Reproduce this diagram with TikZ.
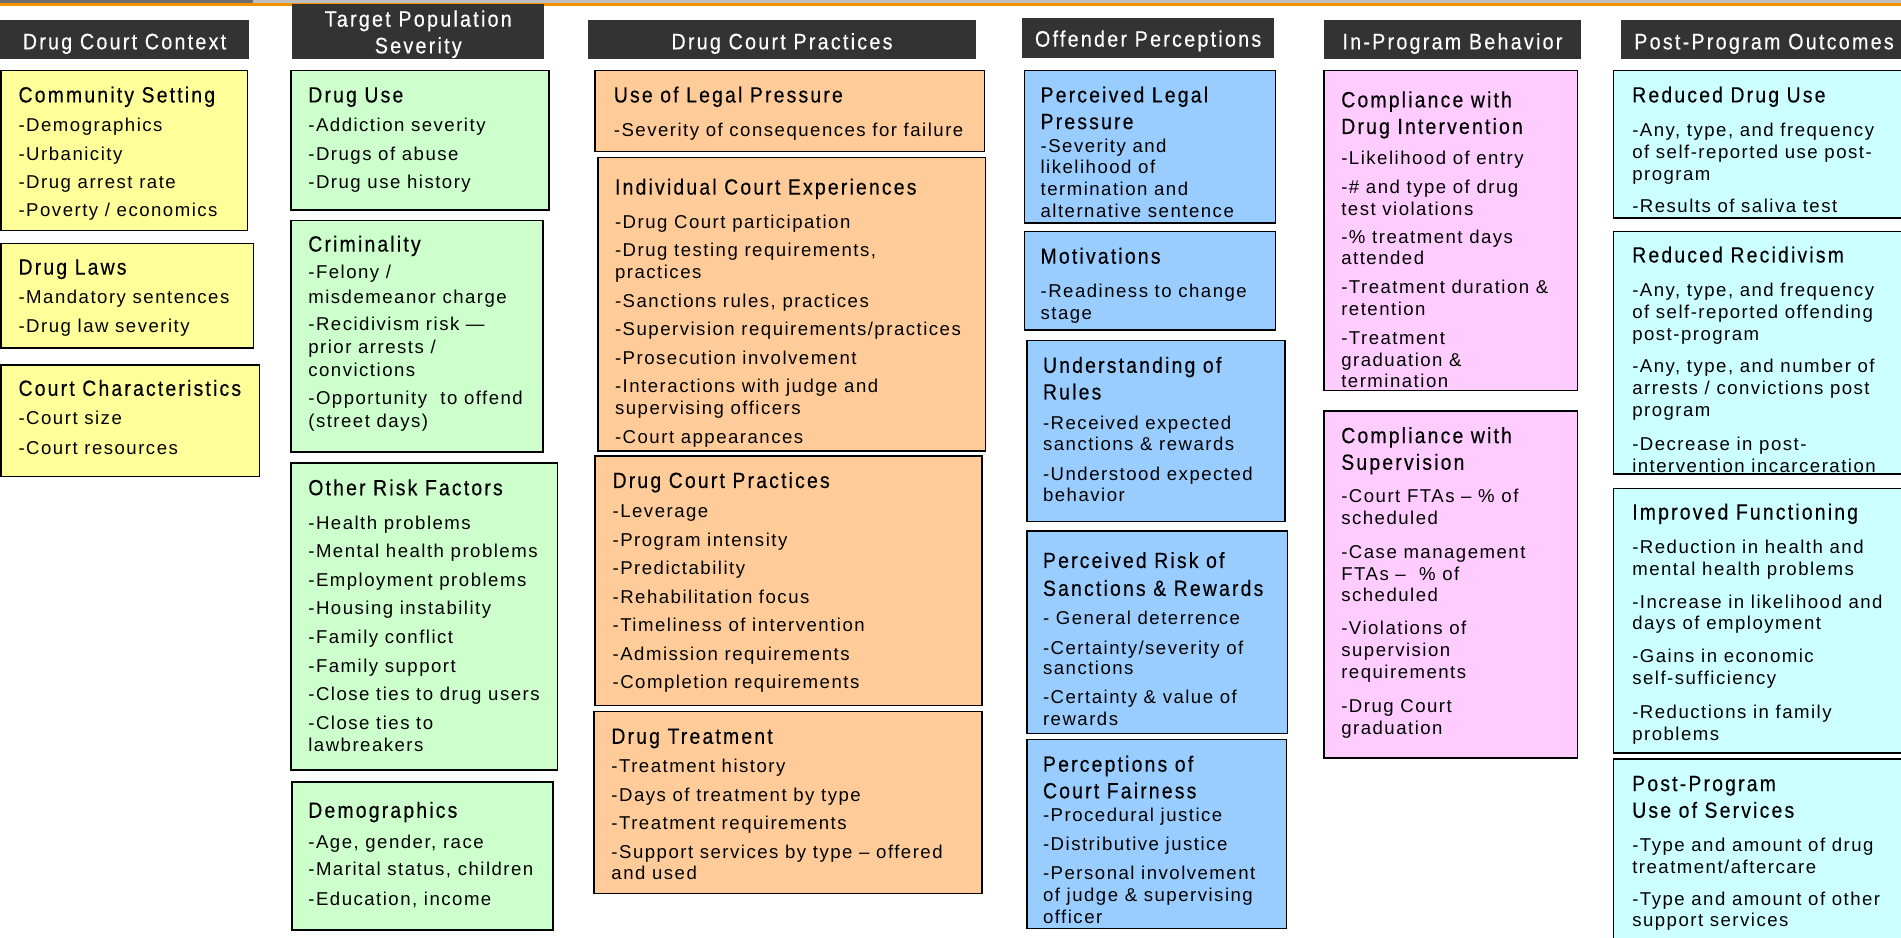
\documentclass[tikz,border=0pt]{standalone}
\usepackage{fontspec}
\setmainfont{Liberation Sans}
\newfontfamily\bodyfont[LetterSpace=8]{Liberation Sans}
\newfontfamily\ttlfont[FakeStretch=0.88,LetterSpace=10,FakeBold=0.4]{Liberation Sans}
\usetikzlibrary{fit}
\definecolor{cyel}{HTML}{FFFF99}
\definecolor{cgrn}{HTML}{CCFFCC}
\definecolor{corg}{HTML}{FFCC99}
\definecolor{cblu}{HTML}{99CCFF}
\definecolor{cpnk}{HTML}{FFCCFF}
\definecolor{ccyn}{HTML}{CCFFFF}
\definecolor{hdrgray}{HTML}{333333}
\definecolor{stripgray}{HTML}{C0C0C0}
\definecolor{darkimg}{HTML}{6E6E6E}
\definecolor{orangeline}{HTML}{F39200}
\tikzset{
 cbox/.style={draw=black, line width=0.8pt, inner sep=0pt},
 hdr/.style={fill=hdrgray, draw=none, inner sep=0pt},
 hdrtxt/.style={text=white, font=\ttlfont\fontsize{11.2}{13}\selectfont, inner sep=0pt, anchor=base},
 ttl/.style={font=\ttlfont\fontsize{11}{13}\selectfont, inner sep=0pt, anchor=base west},
 itm/.style={font=\bodyfont\fontsize{9.3}{11}\selectfont, inner sep=0pt, anchor=base west},
}
\newcommand{\items}[3]{\foreach \yy/\txt [count=\i] in {#3} {\node[itm] (#1-\i) at (#2,\yy+5.5) {\txt};}}
\begin{document}
\begin{tikzpicture}[x=0.6062pt, y=-0.6062pt]
\useasboundingbox (0,0) rectangle (1568,773);
\clip (0,0) rectangle (1568,773);
% top strip
\fill[stripgray] (0,0) rectangle (1568,2.8);
\fill[darkimg] (0,0) rectangle (209,2.8);
\fill[orangeline] (0,2.8) rectangle (1568,4.6);
% headers
\node[hdr, fit={(0,16.5) (205.4,48.7)}] (h1) {};
\node[hdrtxt] (h1t) at (102.7,40.7) {Drug Court Context};
\node[hdr, fit={(241,3.3) (449,48.7)}] (h2) {};
\node[hdrtxt] (h2t1) at (345,22) {Target Population};
\node[hdrtxt] (h2t2) at (345,44) {Severity};
\node[hdr, fit={(485,16.5) (805,48.7)}] (h3) {};
\node[hdrtxt] (h3t) at (645,40.7) {Drug Court Practices};
\node[hdr, fit={(843,15) (1051,47.6)}] (h4) {};
\node[hdrtxt] (h4t) at (947,38.5) {Offender Perceptions};
\node[hdr, fit={(1092,16.5) (1304,48.7)}] (h5) {};
\node[hdrtxt] (h5t) at (1198,40.7) {In-Program Behavior};
\node[hdr, fit={(1337,16.5) (1580,48.7)}] (h6) {};
\node[hdrtxt] (h6t) at (1455,40.7) {Post-Program Outcomes};

% column 1
\node[cbox, fill=cyel, fit={(1,58) (204,190)}] (cs) {};
\node[ttl] (cs-t) at (15,78+6.5) {Community Setting};
\items{cs}{15}{103/{-Demographics},127/{-Urbanicity},150/{-Drug arrest rate},173/{-Poverty / economics}}
\node[cbox, fill=cyel, fit={(1,201) (209,287)}] (dl) {};
\node[ttl] (dl-t) at (15,220+6.5) {Drug Laws};
\items{dl}{15}{245/{-Mandatory sentences},269/{-Drug law severity}}
\node[cbox, fill=cyel, fit={(1,301) (214,393)}] (cc) {};
\node[ttl] (cc-t) at (15,320+6.5) {Court Characteristics};
\items{cc}{15}{345/{-Court size},369/{-Court resources}}

% column 2
\node[cbox, fill=cgrn, fit={(240,58) (453,173)}] (du) {};
\node[ttl] (du-t) at (254,78+6.5) {Drug Use};
\items{du}{254}{103/{-Addiction severity},127/{-Drugs of abuse},150/{-Drug use history}}
\node[cbox, fill=cgrn, fit={(240,182) (448,373)}] (cr) {};
\node[ttl] (cr-t) at (254,201+6.5) {Criminality};
\items{cr}{254}{224/{-Felony /},245/{misdemeanor charge},267/{-Recidivism risk —},286/{prior arrests /},305/{convictions},328/{-Opportunity\ \ to offend},347/{(street days)}}
\node[cbox, fill=cgrn, fit={(240,382) (460,635)}] (or) {};
\node[ttl] (or-t) at (254,402+6.5) {Other Risk Factors};
\items{or}{254}{431/{-Health problems},454/{-Mental health problems},478/{-Employment problems},501/{-Housing instability},525/{-Family conflict},549/{-Family support},572/{-Close ties to drug users},596/{-Close ties to},614/{lawbreakers}}
\node[cbox, fill=cgrn, fit={(241,645) (456,767)}] (dm) {};
\node[ttl] (dm-t) at (254,668+6.5) {Demographics};
\items{dm}{254}{694/{-Age, gender, race},717/{-Marital status, children},741/{-Education, income}}

% column 3
\node[cbox, fill=corg, fit={(491,58) (812,125)}] (lp) {};
\node[ttl] (lp-t) at (506,78+6.5) {Use of Legal Pressure};
\items{lp}{506}{107/{-Severity of consequences for failure}}
\node[cbox, fill=corg, fit={(493,130) (813,372)}] (ic) {};
\node[ttl] (ic-t) at (507,154+6.5) {Individual Court Experiences};
\items{ic}{507}{183/{-Drug Court participation},206/{-Drug testing requirements,},224/{practices},248/{-Sanctions rules, practices},271/{-Supervision requirements/practices},295/{-Prosecution involvement},318/{-Interactions with judge and},336/{supervising officers},360/{-Court appearances}}
\node[cbox, fill=corg, fit={(491,376) (810,582)}] (dp) {};
\node[ttl] (dp-t) at (505,396+6.5) {Drug Court Practices};
\items{dp}{505}{421/{-Leverage},445/{-Program intensity},468/{-Predictability},492/{-Rehabilitation focus},515/{-Timeliness of intervention},539/{-Admission requirements},562/{-Completion requirements}}
\node[cbox, fill=corg, fit={(490,587) (810,737)}] (dt) {};
\node[ttl] (dt-t) at (504,607+6.5) {Drug Treatment};
\items{dt}{504}{632/{-Treatment history},656/{-Days of treatment by type},679/{-Treatment requirements},703/{-Support services by type – offered},720/{and used}}

% column 4
\node[cbox, fill=cblu, fit={(845,58) (1052,184)}] (pl) {};
\node[ttl] (pl-t1) at (858,78+6.5) {Perceived Legal};
\node[ttl] (pl-t2) at (858,100+6.5) {Pressure};
\items{pl}{858}{120/{-Severity and},138/{likelihood of},156/{termination and},174/{alternative sentence}}
\node[cbox, fill=cblu, fit={(845,191) (1052,272)}] (mo) {};
\node[ttl] (mo-t) at (858,211+6.5) {Motivations};
\items{mo}{858}{240/{-Readiness to change},258/{stage}}
\node[cbox, fill=cblu, fit={(847,281) (1060,430)}] (ur) {};
\node[ttl] (ur-t1) at (860,301+6.5) {Understanding of};
\node[ttl] (ur-t2) at (860,323+6.5) {Rules};
\items{ur}{860}{349/{-Received expected},366/{sanctions \& rewards},391/{-Understood expected},408/{behavior}}
\node[cbox, fill=cblu, fit={(847,438) (1062,605)}] (pr) {};
\node[ttl] (pr-t1) at (860,462+6.5) {Perceived Risk of};
\node[ttl] (pr-t2) at (860,485+6.5) {Sanctions \& Rewards};
\items{pr}{860}{510/{- General deterrence},534/{-Certainty/severity of},551/{sanctions},575/{-Certainty \& value of},593/{rewards}}
\node[cbox, fill=cblu, fit={(847,610) (1061,766)}] (cf) {};
\node[ttl] (cf-t1) at (860,630+6.5) {Perceptions of};
\node[ttl] (cf-t2) at (860,652+6.5) {Court Fairness};
\items{cf}{860}{672/{-Procedural justice},696/{-Distributive justice},720/{-Personal involvement},738/{of judge \& supervising},756/{officer}}

% column 5
\node[cbox, fill=cpnk, fit={(1092,58) (1301,322)}] (ci) {};
\node[ttl] (ci-t1) at (1106,82+6.5) {Compliance with};
\node[ttl] (ci-t2) at (1106,104+6.5) {Drug Intervention};
\items{ci}{1106}{130/{-Likelihood of entry},154/{-\# and type of drug},172/{test violations},195/{-\% treatment days},213/{attended},237/{-Treatment duration \&},255/{retention},279/{-Treatment},297/{graduation \&},314/{termination}}
\node[cbox, fill=cpnk, fit={(1092,339) (1301,625)}] (su) {};
\node[ttl] (su-t1) at (1106,359+6.5) {Compliance with};
\node[ttl] (su-t2) at (1106,381+6.5) {Supervision};
\items{su}{1106}{409/{-Court FTAs – \% of},427/{scheduled},455/{-Case management},473/{FTAs –\ \ \% of},491/{scheduled},518/{-Violations of},536/{supervision},554/{requirements},582/{-Drug Court},600/{graduation}}

% column 6
\node[cbox, fill=ccyn, fit={(1331,58) (1580,180)}] (rd) {};
\node[ttl] (rd-t) at (1346,78+6.5) {Reduced Drug Use};
\items{rd}{1346}{107/{-Any, type, and frequency},125/{of self-reported use post-},143/{program},170/{-Results of saliva test}}
\node[cbox, fill=ccyn, fit={(1331,191) (1580,391)}] (rr) {};
\node[ttl] (rr-t) at (1346,210+6.5) {Reduced Recidivism};
\items{rr}{1346}{239/{-Any, type, and frequency},257/{of self-reported offending},275/{post-program},302/{-Any, type, and number of},320/{arrests / convictions post},338/{program},366/{-Decrease in post-},384/{intervention incarceration}}
\node[cbox, fill=ccyn, fit={(1331,403) (1580,621)}] (imf) {};
\node[ttl] (imf-t) at (1346,422+6.5) {Improved Functioning};
\items{imf}{1346}{451/{-Reduction in health and},469/{mental health problems},496/{-Increase in likelihood and},514/{days of employment},541/{-Gains in economic},559/{self-sufficiency},587/{-Reductions in family},605/{problems}}
\node[cbox, fill=ccyn, fit={(1331,626) (1580,790)}] (ps) {};
\node[ttl] (ps-t1) at (1346,646+6.5) {Post-Program};
\node[ttl] (ps-t2) at (1346,668+6.5) {Use of Services};
\items{ps}{1346}{697/{-Type and amount of drug},715/{treatment/aftercare},741/{-Type and amount of other},759/{support services}}
\end{tikzpicture}
\end{document}
